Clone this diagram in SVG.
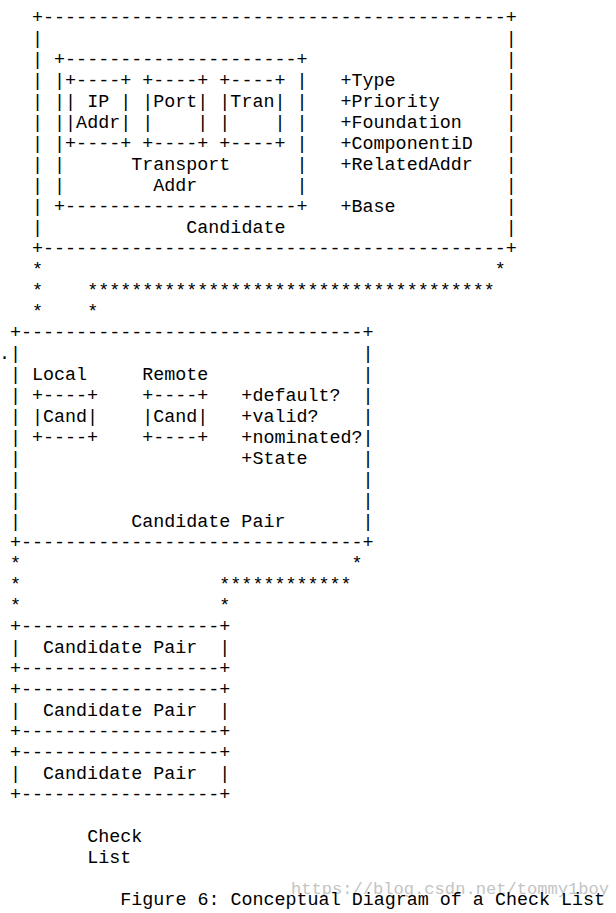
<svg xmlns="http://www.w3.org/2000/svg" width="616" height="913" viewBox="0 0 616 913" xml:space="preserve">
<style>
text{font-family:"Liberation Mono","Courier New",monospace;font-size:18.38px;fill:#000;white-space:pre}
.wm{font-size:16.5px;fill:#c4c4c4}
</style>
<rect width="616" height="913" fill="#fff"/>
<g id="candidate">
<text x="32.06" y="22.7">+------------------------------------------+</text>
<text x="32.06" y="43.7">|                                          |</text>
<text x="32.06" y="64.7">| +---------------------+                  |</text>
<text x="32.06" y="85.7">| |+----+ +----+ +----+ |   +Type          |</text>
<text x="32.06" y="106.7">| || IP | |Port| |Tran| |   +Priority      |</text>
<text x="32.06" y="127.7">| ||Addr| |    | |    | |   +Foundation    |</text>
<text x="32.06" y="148.7">| |+----+ +----+ +----+ |   +ComponentiD   |</text>
<text x="32.06" y="169.7">| |      Transport      |   +RelatedAddr   |</text>
<text x="32.06" y="190.7">| |        Addr         |                  |</text>
<text x="32.06" y="211.7">| +---------------------+   +Base          |</text>
<text x="32.06" y="232.7">|             Candidate                    |</text>
<text x="32.06" y="253.7">+------------------------------------------+</text>
</g>
<g id="connectors">
<text x="32.06" y="274.7">*                                         *</text>
<text x="32.06" y="295.7">*    *************************************</text>
<text x="32.06" y="316.7">*    *</text>
<text x="10" y="568.7">*                              *</text>
<text x="10" y="589.7">*                  ************</text>
<text x="10" y="610.7">*                  *</text>
</g>
<g id="candidate-pair">
<text x="10" y="337.7">+-------------------------------+</text>
<text x="-1.03" y="358.7">.|                               |</text>
<text x="10" y="379.7">| Local     Remote              |</text>
<text x="10" y="400.7">| +----+    +----+   +default?  |</text>
<text x="10" y="421.7">| |Cand|    |Cand|   +valid?    |</text>
<text x="10" y="442.7">| +----+    +----+   +nominated?|</text>
<text x="10" y="463.7">|                    +State     |</text>
<text x="10" y="484.7">|                               |</text>
<text x="10" y="505.7">|                               |</text>
<text x="10" y="526.7">|          Candidate Pair       |</text>
<text x="10" y="547.7">+-------------------------------+</text>
</g>
<g id="pair-1">
<text x="10" y="631.7">+------------------+</text>
<text x="10" y="652.7">|  Candidate Pair  |</text>
<text x="10" y="673.7">+------------------+</text>
</g>
<g id="pair-2">
<text x="10" y="694.7">+------------------+</text>
<text x="10" y="715.7">|  Candidate Pair  |</text>
<text x="10" y="736.7">+------------------+</text>
</g>
<g id="pair-3">
<text x="10" y="757.7">+------------------+</text>
<text x="10" y="778.7">|  Candidate Pair  |</text>
<text x="10" y="799.7">+------------------+</text>
</g>
<g id="check-list-label">
<text x="87.21" y="841.7">Check</text>
<text x="87.21" y="862.7">List</text>
</g>
<g id="watermark">
<text class="wm" x="291" y="894" textLength="318" lengthAdjust="spacingAndGlyphs">https://blog.csdn.net/tommy1boy</text>
</g>
<g id="caption">
<text x="120.3" y="904.7">Figure 6: Conceptual Diagram of a Check List</text>
</g>
</svg>
